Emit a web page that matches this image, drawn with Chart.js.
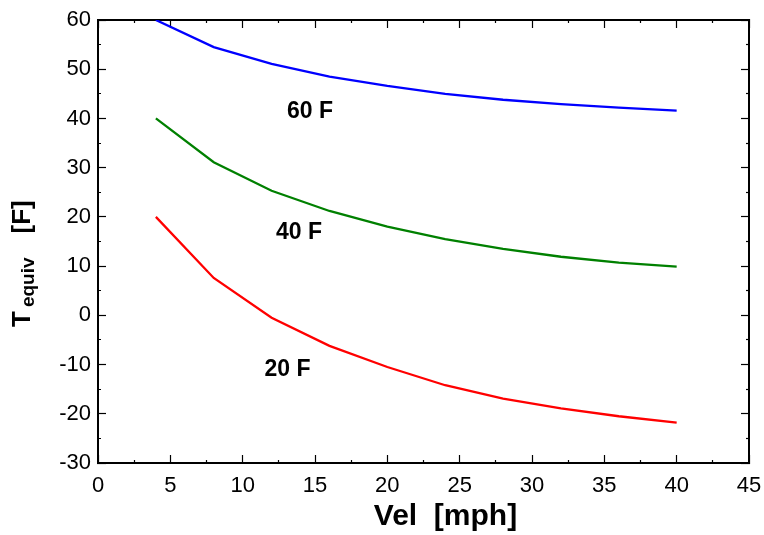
<!DOCTYPE html>
<html>
<head>
<meta charset="utf-8">
<script src="https://cdn.jsdelivr.net/npm/chart.js@4.4.0/dist/chart.umd.min.js"></script>
<style>
  html, body { margin: 0; padding: 0; background: #fff; }
  #wrap { width: 764px; height: 535px; }
</style>
</head>
<body>
<div id="wrap"><canvas id="grafico" width="764" height="535"></canvas></div>
<script>
// Dados (velocidade em mph, temperatura equivalente em F)
const velocidades = [4, 8, 12, 16, 20, 24, 28, 32, 36, 40];
const temp60 = [60, 54.5, 51.1, 48.5, 46.6, 45.0, 43.8, 42.9, 42.2, 41.6];
const temp40 = [40, 31.1, 25.3, 21.2, 18.0, 15.5, 13.5, 11.9, 10.7, 9.9];
const temp20 = [20, 7.6, -0.5, -6.2, -10.5, -14.2, -16.9, -18.9, -20.5, -21.8];

// Rótulos das curvas e onde ficam (em valores dos eixos)
const rotulosCurvas = ["60 F", "40 F", "20 F"];
const rotuloVel = [14.65, 13.9, 13.1];
const rotuloTemp = [41.3, 16.7, -11.1];

const tituloX = "Vel  [mph]";
const tituloY = ["T", "equiv", "[F]"];

const FONTE = '"Liberation Sans", Arial, Helvetica, sans-serif';

function pontos(ys) {
  return velocidades.map((v, i) => ({ x: v, y: ys[i] }));
}

// Tracinhos internos: maiores nos valores com rótulo, menores nos intermediários.
// "doBorda" indica se a linha do tick começa na borda (bottom/right) ou no lado de dentro (top/left).
function eixo(pos, min, max, passo, maior, comRotulos, tamanho) {
  const doBorda = pos === "bottom" || pos === "right";
  return {
    type: "linear",
    position: pos,
    min: min,
    max: max,
    afterFit: s => {
      if (pos === "bottom" || pos === "top") s.height = tamanho;
      else s.width = tamanho;
      // sem folga extra: o tamanho da área do gráfico fica fixo
      s.paddingTop = s.paddingBottom = s.paddingLeft = s.paddingRight = 0;
    },
    border: { display: true, color: "#000", width: 2 },
    grid: {
      drawOnChartArea: false,
      drawTicks: true,
      tickLength: -8,
      tickColor: "#000",
      tickWidth: 1.2,
      tickBorderDash: c => {
        if (!c.tick || Math.abs(c.tick.value % maior) < 1e-9) return [];
        return doBorda ? [4, 100] : [0, 5, 100];
      }
    },
    ticks: {
      display: comRotulos,
      stepSize: passo,
      autoSkip: false,
      maxRotation: 0,
      color: "#000",
      font: { family: FONTE, size: 22 },
      padding: pos === "bottom" ? 18 : 15,
      callback: v => (Math.abs(v % maior) < 1e-9 ? v : "")
    }
  };
}

const textos = {
  id: "textos",
  afterDraw(chart) {
    const { ctx, chartArea, scales: { x, y } } = chart;
    ctx.save();
    ctx.fillStyle = "#000";

    // rótulos das curvas
    ctx.font = "bold 23px " + FONTE;
    ctx.textAlign = "center";
    ctx.textBaseline = "middle";
    rotulosCurvas.forEach((t, i) => {
      ctx.fillText(t, x.getPixelForValue(rotuloVel[i]), y.getPixelForValue(rotuloTemp[i]));
    });

    // título do eixo x
    ctx.font = "bold 30px " + FONTE;
    ctx.textBaseline = "alphabetic";
    ctx.fillText(tituloX, (chartArea.left + chartArea.right) / 2 + 22, 525);

    // título do eixo y, com subscrito
    ctx.translate(30, chartArea.top + 307);
    ctx.rotate(-Math.PI / 2);
    ctx.textAlign = "left";
    ctx.font = "bold 26px " + FONTE;
    ctx.fillText(tituloY[0], 0, 0);
    let px = ctx.measureText(tituloY[0]).width + 4;
    ctx.font = "bold 19px " + FONTE;
    ctx.fillText(tituloY[1], px, 4);
    px += ctx.measureText(tituloY[1]).width + 24;
    ctx.font = "bold 26px " + FONTE;
    ctx.fillText(tituloY[2], px, 0);

    ctx.restore();
  }
};

new Chart(document.getElementById("grafico"), {
  type: "line",
  data: {
    datasets: [
      { label: "60 F", data: pontos(temp60), borderColor: "#0000ff" },
      { label: "40 F", data: pontos(temp40), borderColor: "#008000" },
      { label: "20 F", data: pontos(temp20), borderColor: "#ff0000" }
    ]
  },
  options: {
    responsive: false,
    animation: false,
    devicePixelRatio: 1,
    layout: { padding: 0 },
    datasets: {
      line: { borderWidth: 2.3, pointRadius: 0, tension: 0, fill: false, xAxisID: "x", yAxisID: "y" }
    },
    plugins: {
      legend: { display: false },
      tooltip: { enabled: false }
    },
    scales: {
      x: eixo("bottom", 0, 45, 2.5, 5, true, 72),
      x2: eixo("top", 0, 45, 2.5, 5, false, 20),
      y: eixo("left", -30, 60, 5, 10, true, 98),
      y2: eixo("right", -30, 60, 5, 10, false, 15)
    }
  },
  plugins: [textos]
});
</script>
</body>
</html>
